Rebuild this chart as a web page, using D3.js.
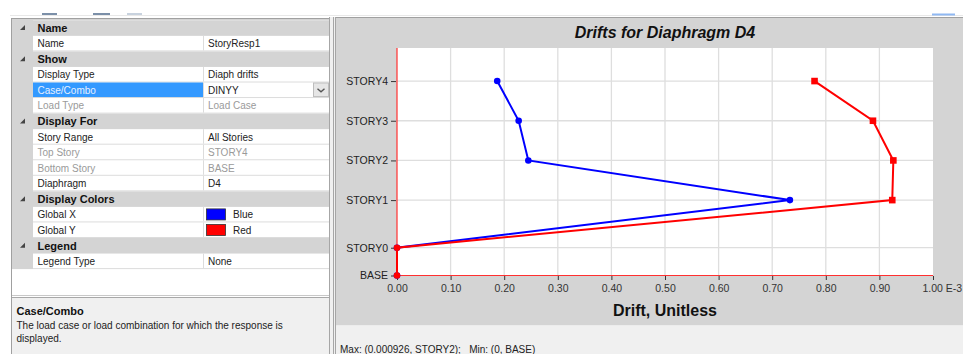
<!DOCTYPE html>
<html><head><meta charset="utf-8">
<script src="https://cdn.jsdelivr.net/npm/d3@7"></script>
<style>html,body{margin:0;padding:0;background:#fff;overflow:hidden}svg{display:block;font-family:"Liberation Sans",Arial,sans-serif}text{white-space:pre}</style>
</head><body>
<svg id="c" width="963" height="354"></svg>
<script>
// ---- chart data ----
const stories = ["BASE", "STORY0", "STORY1", "STORY2", "STORY3", "STORY4"];
const elevations = [0, 2.1, 5.7, 8.7, 11.7, 14.7];
const driftX = [0, 0, 0.733, 0.245, 0.227, 0.187];   // Global X (blue), E-3
const driftY = [0, 0, 0.924, 0.926, 0.888, 0.779];   // Global Y (red), E-3
const xTicks = [0, 0.1, 0.2, 0.3, 0.4, 0.5, 0.6, 0.7, 0.8, 0.9, 1.0];
const chartTitle = "Drifts for Diaphragm D4";
const xTitle = "Drift, Unitless";
const statusText = "Max: (0.000926, STORY2);   Min: (0, BASE)";

// ---- property grid data ----
const gridRows = [
  ["cat", "Name"], ["prop", "Name", "StoryResp1"],
  ["cat", "Show"], ["prop", "Display Type", "Diaph drifts"], ["sel", "Case/Combo", "DINYY"], ["dis", "Load Type", "Load Case"],
  ["cat", "Display For"], ["prop", "Story Range", "All Stories"], ["dis", "Top Story", "STORY4"], ["dis", "Bottom Story", "BASE"], ["prop", "Diaphragm", "D4"],
  ["cat", "Display Colors"], ["col", "Global X", "Blue", "#0000ff"], ["col", "Global Y", "Red", "#ff0000"],
  ["cat", "Legend"], ["prop", "Legend Type", "None"]
];
const helpTitle = "Case/Combo";
const helpLines = ["The load case or load combination for which the response is", "displayed."];

const svg = d3.select("#c");

// ---------- top strip ----------
svg.append("line").attr("x1", 10).attr("x2", 963).attr("y1", 15.5).attr("y2", 15.5).attr("stroke", "#e8e8e8");
[[42, 57, "#7b8fa8"], [93, 110, "#7b8fa8"], [127, 142, "#c8d2de"]].forEach(d =>
  svg.append("rect").attr("x", d[0]).attr("y", 13).attr("width", d[1] - d[0]).attr("height", 2).attr("fill", d[2]));
svg.append("rect").attr("x", 932).attr("y", 13.5).attr("width", 23).attr("height", 2).attr("fill", "#8fb8f2");

// ---------- left property panel ----------
const gL = svg.append("g");
const rowH = 15.55, row0 = 20.3, gx0 = 12, gx1 = 330, mx = 33, vx = 203.5;
gL.append("rect").attr("x", gx0).attr("y", 18).attr("width", gx1 - gx0).attr("height", 280).attr("fill", "#fff");
gL.append("rect").attr("x", gx0).attr("y", 18).attr("width", mx - gx0).attr("height", row0 + gridRows.length * rowH - 18).attr("fill", "#d4d4d4");
gL.append("rect").attr("x", gx0).attr("y", 18).attr("width", gx1 - gx0).attr("height", 2.3).attr("fill", "#d4d4d4");
gridRows.forEach((r, i) => {
  const y = row0 + i * rowH, cy = y + rowH / 2;
  if (r[0] === "cat") {
    gL.append("rect").attr("x", gx0).attr("y", y).attr("width", gx1 - gx0).attr("height", rowH).attr("fill", "#d4d4d4");
    gL.append("path").attr("d", `M25,${cy - 3} L25,${cy + 2} L20,${cy + 2} Z`).attr("fill", "#444");
    gL.append("text").attr("x", 37.5).attr("y", cy + 4).attr("font-size", 11).attr("font-weight", "bold").attr("fill", "#111").text(r[1]);
  } else {
    gL.append("line").attr("x1", mx).attr("x2", gx1).attr("y1", y + rowH - 0.5).attr("y2", y + rowH - 0.5).attr("stroke", "#dcdcdc");
    gL.append("line").attr("x1", vx).attr("x2", vx).attr("y1", y).attr("y2", y + rowH - 1).attr("stroke", "#dcdcdc");
    if (r[0] === "sel") {
      gL.append("rect").attr("x", mx).attr("y", y).attr("width", vx - mx - 0.5).attr("height", rowH - 1).attr("fill", "#3399ff");
    }
    const lc = r[0] === "dis" ? "#9a9a9a" : (r[0] === "sel" ? "#e6f0ff" : "#222");
    const vc = r[0] === "dis" ? "#9a9a9a" : "#222";
    gL.append("text").attr("x", 37.5).attr("y", cy + 3.6).attr("font-size", 10).attr("fill", lc).text(r[1]);
    let tx = 208;
    if (r[0] === "col") {
      gL.append("rect").attr("x", 206.5).attr("y", y + 2).attr("width", 19).attr("height", rowH - 4.5).attr("fill", r[3]).attr("stroke", "#333").attr("stroke-width", 0.8);
      tx = 233;
    }
    gL.append("text").attr("x", tx).attr("y", cy + 3.6).attr("font-size", 10).attr("fill", vc).text(r[2]);
    if (r[0] === "sel") {
      gL.append("rect").attr("x", 313.5).attr("y", y + 0.5).attr("width", 15).attr("height", rowH - 2).attr("fill", "#e6e6e6").attr("stroke", "#bdbdbd");
      gL.append("path").attr("d", `M317.5,${cy - 1.5} L321,${cy + 1.5} L324.5,${cy - 1.5}`).attr("fill", "none").attr("stroke", "#555").attr("stroke-width", 1.4);
    }
  }
});
// help panel
gL.append("rect").attr("x", gx0).attr("y", 297.5).attr("width", gx1 - gx0).attr("height", 57).attr("fill", "#f0f0f0");
gL.append("line").attr("x1", gx0).attr("x2", gx1).attr("y1", 297.5).attr("y2", 297.5).attr("stroke", "#a8a8a8");
gL.append("line").attr("x1", gx0).attr("x2", gx1).attr("y1", 295.5).attr("y2", 295.5).attr("stroke", "#c8c8c8");
gL.append("line").attr("x1", gx0 - 0.5).attr("x2", gx0 - 0.5).attr("y1", 18).attr("y2", 354).attr("stroke", "#a0a0a0");
gL.append("line").attr("x1", gx0).attr("x2", gx1).attr("y1", 18.5).attr("y2", 18.5).attr("stroke", "#a0a0a0");
gL.append("text").attr("x", 16.5).attr("y", 315).attr("font-size", 11).attr("font-weight", "bold").attr("fill", "#111").text(helpTitle);
helpLines.forEach((t, i) => gL.append("text").attr("x", 16.5).attr("y", 329 + i * 12.7).attr("font-size", 10).attr("fill", "#222").text(t));

// splitter
svg.append("rect").attr("x", 329.5).attr("y", 17).attr("width", 7).attr("height", 337).attr("fill", "#f0f0f0");
[329.5, 333.5, 335.5].forEach(x => svg.append("line").attr("x1", x).attr("x2", x).attr("y1", 17).attr("y2", 354).attr("stroke", "#a6a6a6"));

// ---------- chart panel ----------
svg.append("rect").attr("x", 336).attr("y", 17).attr("width", 627).attr("height", 308.5).attr("fill", "#d4d4d4");
svg.append("rect").attr("x", 336).attr("y", 325.5).attr("width", 627).attr("height", 29).attr("fill", "#f0f0f0");
svg.append("line").attr("x1", 336).attr("x2", 963).attr("y1", 17.5).attr("y2", 17.5).attr("stroke", "#a0a0a0");

const pl = 397, pr = 933, pt = 48, pb = 275.5;
const x = d3.scaleLinear().domain([0, 1]).range([pl, pr]);
const y = d3.scaleLinear().domain([0, 17.2]).range([pb, pt]);

svg.append("rect").attr("x", pl).attr("y", pt).attr("width", pr - pl).attr("height", pb - pt).attr("fill", "#fff");

// grid
const grid = svg.append("g").attr("stroke", "#dedede").attr("stroke-width", 1.3);
xTicks.slice(1, -1).forEach(t => grid.append("line").attr("x1", x(t)).attr("x2", x(t)).attr("y1", pt).attr("y2", pb));
elevations.slice(1).forEach(e => grid.append("line").attr("x1", pl).attr("x2", pr).attr("y1", y(e)).attr("y2", y(e)));

// axes
const xAxis = d3.axisBottom(x).tickValues(xTicks).tickSize(4).tickPadding(5).tickFormat(d3.format(".2f"));
const gx = svg.append("g").attr("transform", `translate(0,${pb + 0.5})`).call(xAxis);
gx.select(".domain").remove();
gx.selectAll(".tick line").attr("stroke", "#333");
gx.selectAll(".tick text").attr("font-size", 10.5).attr("fill", "#333").attr("font-family", "Liberation Sans, Arial, sans-serif");
gx.selectAll(".tick").filter(d => d === 1).select("text").attr("text-anchor", "start").attr("dx", -11).text("1.00 E-3");

const yAxis = d3.axisLeft(y).tickValues(elevations).tickSize(5).tickPadding(3).tickFormat((d, i) => stories[i]);
const gy = svg.append("g").attr("transform", `translate(${pl - 1},0)`).call(yAxis);
gy.select(".domain").remove();
gy.selectAll(".tick line").attr("stroke", "#333");
gy.selectAll(".tick text").attr("font-size", 10.5).attr("fill", "#222").attr("font-family", "Liberation Sans, Arial, sans-serif");

// red axis lines
svg.append("line").attr("x1", pl).attr("x2", pl).attr("y1", pt).attr("y2", pb).attr("stroke", "#ff3030").attr("stroke-width", 1.2);
svg.append("line").attr("x1", pl).attr("x2", pr).attr("y1", pb).attr("y2", pb).attr("stroke", "#ff3030").attr("stroke-width", 1.2);

// series
const line = d3.line().x(d => x(d.v)).y(d => y(d.e));
const blue = stories.map((s, i) => ({ v: driftX[i], e: elevations[i] }));
const red = stories.map((s, i) => ({ v: driftY[i], e: elevations[i] }));
svg.append("path").datum(blue).attr("d", line).attr("fill", "none").attr("stroke", "#0000ff").attr("stroke-width", 2);
svg.selectAll(".bm").data(blue).join("circle").attr("cx", d => x(d.v)).attr("cy", d => y(d.e)).attr("r", 3.3).attr("fill", "#0000ff");
svg.append("path").datum(red).attr("d", line).attr("fill", "none").attr("stroke", "#ff0000").attr("stroke-width", 2);
svg.selectAll(".rm").data(red).join("rect").attr("x", d => x(d.v) - 3.3).attr("y", d => y(d.e) - 3.3).attr("width", 6.6).attr("height", 6.6).attr("rx", d => d.v === 0 ? 3.3 : 0).attr("fill", "#ff0000");

// titles
svg.append("text").attr("x", 665).attr("y", 37.5).attr("text-anchor", "middle").attr("font-size", 16).attr("font-weight", "bold").attr("font-style", "italic").attr("fill", "#111").text(chartTitle);
svg.append("text").attr("x", 665).attr("y", 315.5).attr("text-anchor", "middle").attr("font-size", 16).attr("font-weight", "bold").attr("fill", "#111").text(xTitle);
svg.append("text").attr("x", 340).attr("y", 352.5).attr("font-size", 10).attr("fill", "#222").text(statusText);
</script>
</body></html>
